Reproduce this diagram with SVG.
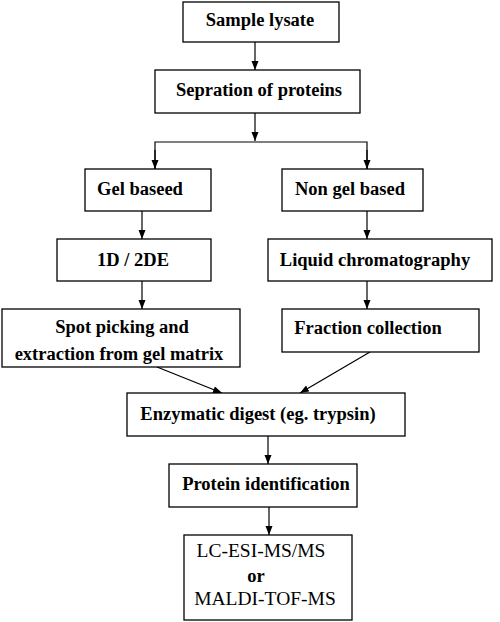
<svg xmlns="http://www.w3.org/2000/svg" width="500" height="622" viewBox="0 0 500 622">
<defs>
<marker id="ah" markerUnits="userSpaceOnUse" markerWidth="9" markerHeight="8" refX="9" refY="3.5" orient="auto">
<path d="M0,0 L9,3.5 L0,7 z" fill="#000"/>
</marker>
<style>
.box{fill:#fff;stroke:#000;stroke-width:1.3}
.c{fill:none;stroke:#000;stroke-width:1.2}
</style>
</defs>
<rect width="500" height="622" fill="#fff"/>
<g id="connectors">
<line class="c" x1="255" y1="42" x2="255" y2="70" marker-end="url(#ah)"/>
<line class="c" x1="255" y1="113" x2="255" y2="141" marker-end="url(#ah)"/>
<polyline class="c" points="155,169 155,142 367,142 367,169"/>
<line class="c" x1="155" y1="150" x2="155" y2="169" marker-end="url(#ah)"/>
<line class="c" x1="367" y1="150" x2="367" y2="169" marker-end="url(#ah)"/>
<line class="c" x1="142" y1="211" x2="142" y2="239" marker-end="url(#ah)"/>
<line class="c" x1="367" y1="211" x2="367" y2="239" marker-end="url(#ah)"/>
<line class="c" x1="142" y1="281" x2="142" y2="309" marker-end="url(#ah)"/>
<line class="c" x1="367" y1="281" x2="367" y2="309" marker-end="url(#ah)"/>
<line class="c" x1="157" y1="367" x2="222" y2="393" marker-end="url(#ah)"/>
<line class="c" x1="370" y1="352" x2="300" y2="393" marker-end="url(#ah)"/>
<line class="c" x1="268" y1="436" x2="268" y2="464" marker-end="url(#ah)"/>
<line class="c" x1="269" y1="507" x2="269" y2="535" marker-end="url(#ah)"/>
</g>
<g font-family="Liberation Serif, Times New Roman, DejaVu Serif, serif" font-size="18.5" font-weight="bold" fill="#000" text-anchor="middle">
<g id="sample-lysate">
<rect class="box" x="183" y="2" width="156" height="40"/>
<text x="260" y="26">Sample lysate</text>
</g>
<g id="separation">
<rect class="box" x="155" y="70" width="205" height="43"/>
<text x="259" y="96">Sepration of proteins</text>
</g>
<g id="gel-based">
<rect class="box" x="85" y="169" width="126" height="42"/>
<text x="140" y="195">Gel baseed</text>
</g>
<g id="non-gel-based">
<rect class="box" x="282" y="169" width="141" height="42"/>
<text x="350" y="195">Non gel based</text>
</g>
<g id="d2de">
<rect class="box" x="57" y="239" width="154" height="42"/>
<text x="133" y="266">1D / 2DE</text>
</g>
<g id="liquid-chromatography">
<rect class="box" x="268" y="239" width="224" height="42"/>
<text x="375" y="266">Liquid chromatography</text>
</g>
<g id="spot-picking">
<rect class="box" x="2" y="309" width="238" height="58"/>
<text x="122" y="333">Spot picking and</text>
<text x="119" y="360">extraction from gel matrix</text>
</g>
<g id="fraction-collection">
<rect class="box" x="282" y="309" width="197" height="43"/>
<text x="368" y="334">Fraction collection</text>
</g>
<g id="enzymatic-digest">
<rect class="box" x="127" y="393" width="278" height="43"/>
<text x="258" y="420">Enzymatic digest (eg. trypsin)</text>
</g>
<g id="protein-identification">
<rect class="box" x="169" y="464" width="188" height="43"/>
<text x="266" y="490">Protein identification</text>
</g>
<g id="ms">
<rect class="box" x="184" y="535" width="168" height="85"/>
<text x="261" y="557" font-weight="normal" font-size="19.5">LC-ESI-MS/MS</text>
<text x="256" y="582">or</text>
<text x="265" y="605" font-weight="normal" font-size="19.5">MALDI-TOF-MS</text>
</g>
</g>
</svg>
